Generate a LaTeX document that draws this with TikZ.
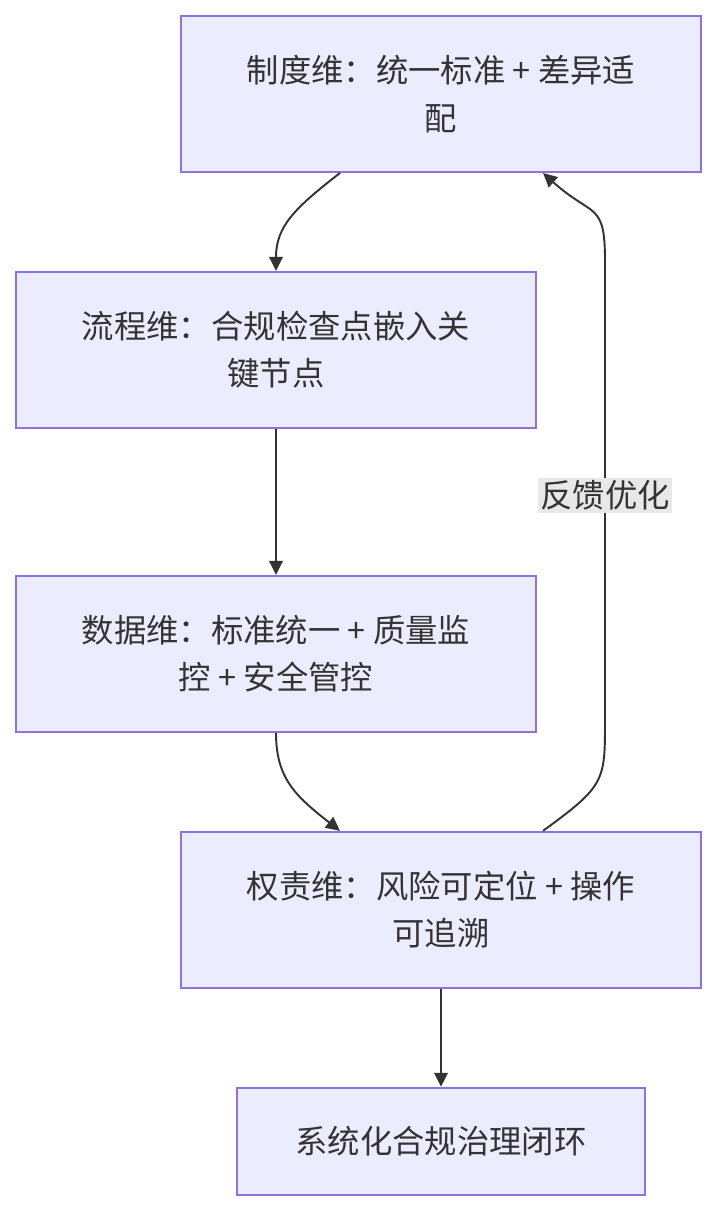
\documentclass[tikz,border=0pt]{standalone}
\usepackage{fontspec}
\usepackage{xcolor}
\usepackage{tikz}
\usetikzlibrary{positioning,arrows.meta}
\newfontfamily\cjk{Noto Sans CJK SC}
\definecolor{boxfill}{HTML}{ECECFF}
\definecolor{boxline}{HTML}{9370DB}
\definecolor{ink}{HTML}{333333}
\definecolor{lblbg}{HTML}{E8E8E8}

\begin{document}
\begin{tikzpicture}[
    dim/.style={draw=boxline, fill=boxfill, line width=1.1pt, minimum width=10.4cm, minimum height=3.12cm,
                align=center, text=ink, font=\cjk\fontsize{18.4}{27}\selectfont},
    goal/.style={dim, minimum width=8.16cm, minimum height=2.14cm},
    arr/.style={-{Triangle[length=0.28cm,width=0.27cm]}, line width=1.1pt, ink},
    lbl/.style={fill=lblbg, text=ink, inner sep=1.5pt, font=\cjk\fontsize{18.4}{20}\selectfont},
    node distance=1.96cm
]
\useasboundingbox (0,0) rectangle (14.34,-24.24);
\node[dim] (rule) at (8.82,-1.88) {制度维：统一标准 + 差异适\\配};
\node[dim, below=of rule, xshift=-3.3cm] (flow) {流程维：合规检查点嵌入关\\键节点};
\node[dim, below=2.92cm of flow] (data) {数据维：标准统一 + 质量监\\控 + 安全管控};
\node[dim, below=of data, xshift=3.3cm] (auth) {权责维：风险可定位 + 操作\\可追溯};
\node[goal, below=of auth] (loop) {系统化合规治理闭环};

\draw[arr] ([xshift=-2.02cm]rule.south) .. controls +(-0.9,-0.7) and +(0,0.9) .. (flow.north);
\draw[arr] (flow) -- (data);
\draw[arr] (data.south) .. controls +(0,-0.9) and +(-0.9,0.7) .. ([xshift=-2.02cm]auth.north);
\draw[arr] (auth) -- (loop);
\draw[arr] ([xshift=2.04cm]auth.north) .. controls +(1.24,0.9) and +(0,-1.2) .. ++(1.24,2.2)
    -- ++(0,9.2) node[lbl, pos=0.49] {反馈优化}
    .. controls +(0,1.2) and +(1.0,-0.9) .. ([xshift=2.04cm]rule.south);
\end{tikzpicture}
\end{document}
